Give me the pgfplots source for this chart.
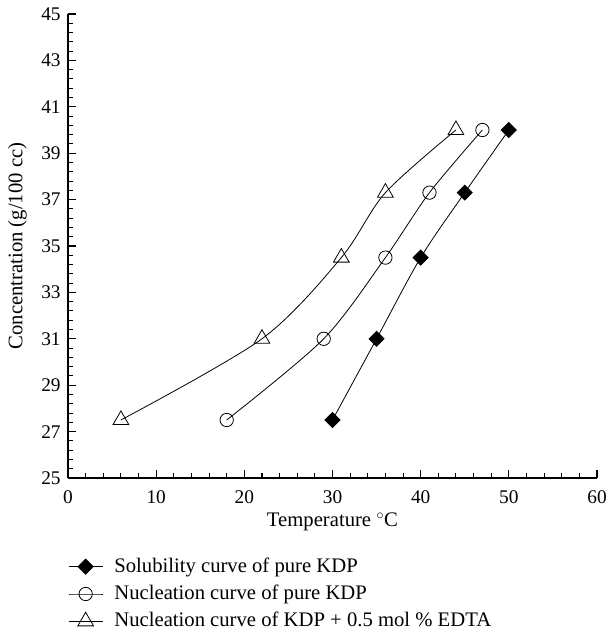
\documentclass[border=0pt]{standalone}
\usepackage{fontspec}
\setmainfont{Liberation Serif}
\usepackage{pgfplots}
\pgfplotsset{compat=1.18}

\begin{document}
\begin{tikzpicture}
\begin{axis}[
name=ax,
scale only axis,
width=396.75pt,
height=348pt,
xmin=0, xmax=60,
ymin=25, ymax=45,
xtick={0,10,...,60},
ytick={25,27,...,45},
minor x tick num=4,
minor y tick num=4,
axis lines*=left,
tick align=inside,
major tick length=6pt,
minor tick length=4pt,
axis line style={line width=0.8pt},
every tick/.style={black, line width=0.8pt},
/pgf/number format/assume math mode=true,
tick label style={font=\fontsize{14.5}{16}\selectfont},
xticklabel style={yshift=-6pt},
yticklabel style={xshift=-2pt},
label style={font=\fontsize{15.5}{17}\selectfont},
xlabel={Temperature~$^{\circ}$C},
ylabel={Concentration (g/100 cc)},
xlabel style={at={(axis description cs:0.5,0)}, anchor=center, yshift=-33pt},
ylabel style={at={(axis description cs:0,0.5)}, anchor=center, yshift=38pt},
legend style={at={(0,-0.25)}, anchor=west, draw=none, fill=none, inner sep=0pt,
  font=\fontsize{15.5}{17}\selectfont, row sep=3.5pt, legend cell align=left,
  nodes={inner sep=1pt, text height=11.5pt, text depth=3.5pt}},
legend image code/.code={\draw[mark repeat=2,mark phase=2] plot coordinates {(0pt,0pt) (12.75pt,0pt) (25.5pt,0pt)};
  \path (33pt,0pt);},
]
\addplot[black, line width=0.6pt, smooth, mark=square*, mark size=4pt, mark options={rotate=45, fill=black}]
  coordinates {(30,27.5) (35,31) (40,34.5) (45,37.3) (50,40)};
\addplot[black, line width=0.6pt, smooth, mark=o, mark size=5pt, mark options={fill=white}]
  coordinates {(18,27.5) (29,31) (36,34.5) (41,37.3) (47,40)};
\addplot[black, line width=0.6pt, smooth, mark=triangle, mark size=6.8pt, mark options={fill=white}]
  coordinates {(6,27.5) (22,31) (31,34.5) (36,37.3) (44,40)};
\legend{Solubility curve of pure KDP, Nucleation curve of pure KDP, Nucleation curve of KDP + 0.5 mol \% EDTA}
\end{axis}
\pgfresetboundingbox
\path[use as bounding box] ([xshift=-51pt,yshift=-124.5pt]ax.south west) rectangle ([xshift=9pt,yshift=10.5pt]ax.north east);
\end{tikzpicture}
\end{document}
